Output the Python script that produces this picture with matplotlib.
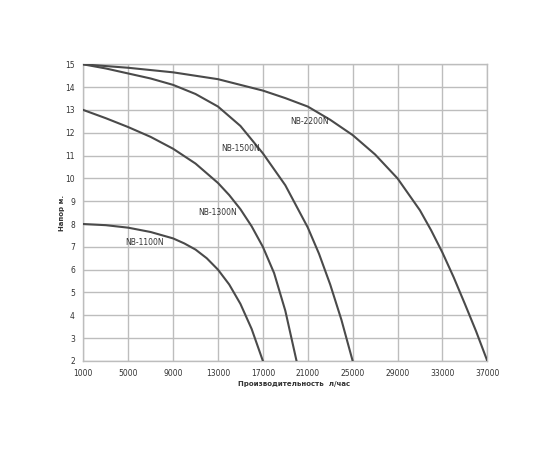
import matplotlib
matplotlib.use('Agg')
import matplotlib.pyplot as plt

# flow (l/h) vs head (m)
x_1100 = [1000, 3000, 5000, 7000, 9000, 10000, 11000, 12000, 13000, 14000, 15000, 16000, 17000]
y_1100 = [8.0, 7.95, 7.84, 7.65, 7.37, 7.15, 6.88, 6.5, 6.0, 5.35, 4.5, 3.4, 2.0]

x_1300 = [1000, 3000, 5000, 7000, 9000, 11000, 13000, 14000, 15000, 16000, 17000, 18000, 19000, 20000]
y_1300 = [13.0, 12.64, 12.25, 11.82, 11.3, 10.65, 9.8, 9.27, 8.65, 7.9, 7.0, 5.85, 4.2, 2.0]

x_1500 = [1000, 3000, 5000, 7000, 9000, 11000, 13000, 15000, 17000, 19000, 21000, 22000, 23000, 24000, 25000]
y_1500 = [15.0, 14.82, 14.6, 14.38, 14.1, 13.7, 13.15, 12.3, 11.1, 9.7, 7.85, 6.7, 5.35, 3.8, 2.0]

x_2200 = [1000, 5000, 9000, 13000, 17000, 19000, 21000, 23000, 25000, 27000, 29000, 31000,
          32000, 33000, 34000, 35000, 36000, 37000]
y_2200 = [15.0, 14.85, 14.65, 14.35, 13.85, 13.52, 13.15, 12.57, 11.9, 11.05, 10.0, 8.6,
          7.72, 6.75, 5.67, 4.5, 3.3, 2.0]

names = ['NB-1100N', 'NB-1300N', 'NB-1500N', 'NB-2200N']
label_x = [6500, 13000, 15000, 21200]
label_y = [7.2, 8.5, 11.3, 12.5]

x_ticks = list(range(1000, 37001, 4000))
y_ticks = list(range(2, 16))

fig = plt.figure(figsize=(5.5, 4.5), dpi=100)
ax = fig.add_axes([0.1515, 0.198, 0.7345, 0.659])

curve = '#4a4a4a'
for xs, ys in [(x_1100, y_1100), (x_1300, y_1300), (x_1500, y_1500), (x_2200, y_2200)]:
    ax.plot(xs, ys, color=curve, lw=1.5, zorder=3, solid_joinstyle='round')

for name, lx, ly in zip(names, label_x, label_y):
    ax.text(lx, ly, name, fontsize=5.5, color='#333333', ha='center', va='center', zorder=4)

ax.set_xlim(1000, 37000)
ax.set_ylim(2, 15)
ax.set_xticks(x_ticks)
ax.set_yticks(y_ticks)
ax.tick_params(labelsize=5.5, length=0, pad=6, colors='#333333')
ax.grid(True, color='#bdbdbd', lw=1)
for s in ax.spines.values():
    s.set_color('#bdbdbd')
    s.set_linewidth(1)

fig.text(238 / 550, 1 - 384 / 450, 'Производительность  л/час', fontsize=5, fontweight='bold',
         color='#333333', ha='left', va='center')
fig.text(62 / 550, 1 - 213 / 450, 'Напор м.', fontsize=5, fontweight='bold',
         color='#333333', rotation=90, ha='center', va='center')

fig.savefig('out.png', dpi=100)
